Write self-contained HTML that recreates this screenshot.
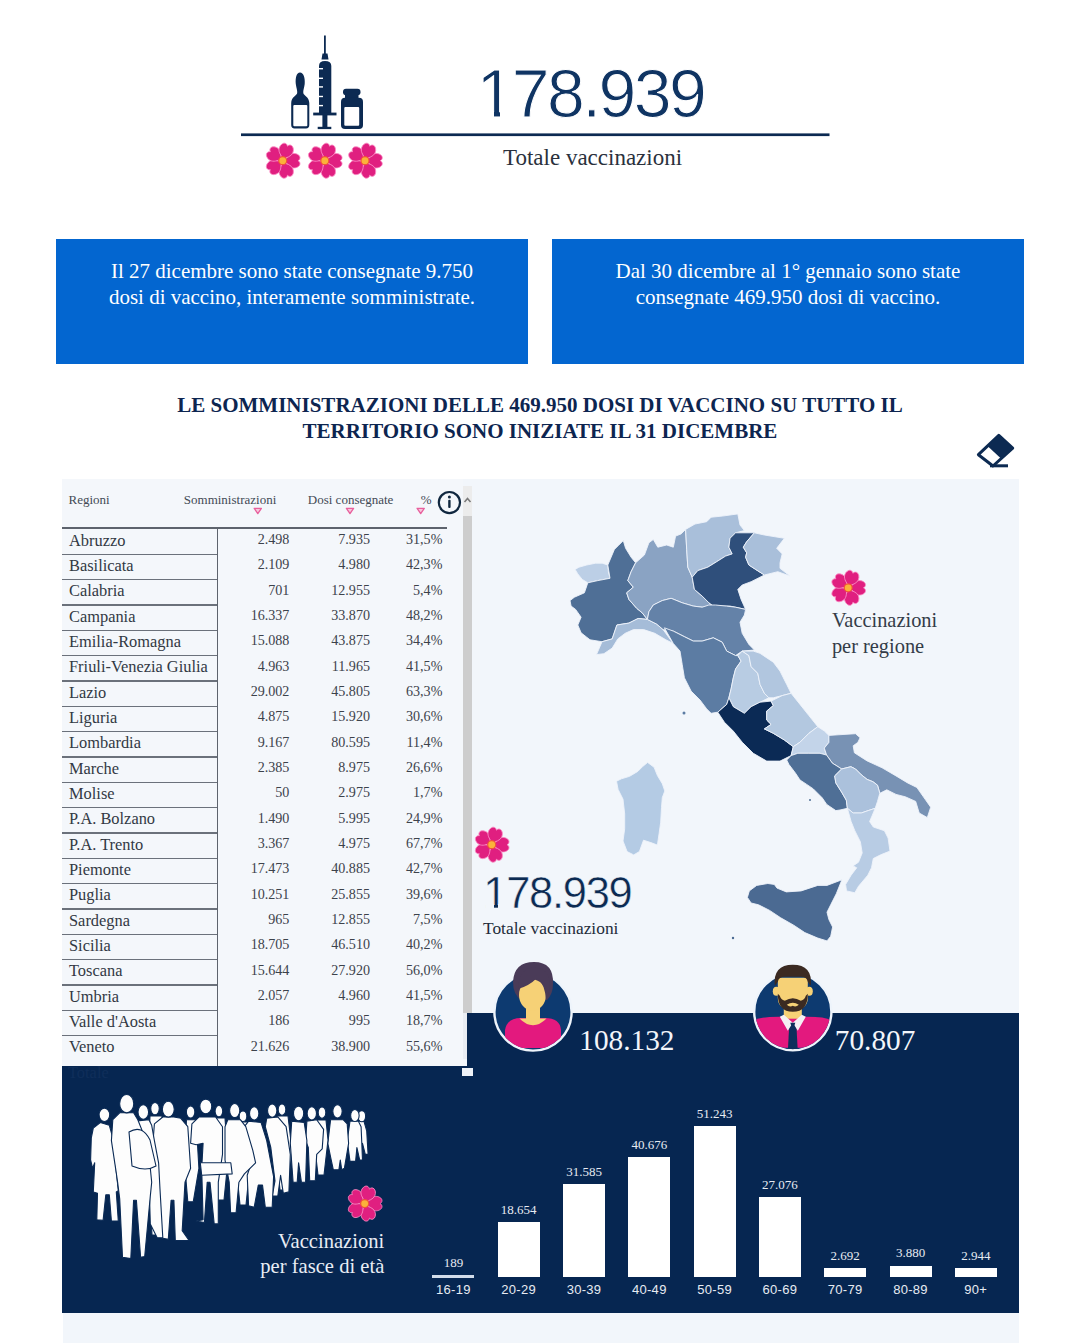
<!DOCTYPE html>
<html><head><meta charset="utf-8">
<style>
*{margin:0;padding:0;box-sizing:border-box}
html,body{width:1080px;height:1343px;overflow:hidden;background:#fff}
body{position:relative;font-family:"Liberation Serif",serif}
.a{position:absolute;white-space:nowrap}
.sans{font-family:"Liberation Sans",sans-serif}
.box{position:absolute;background:#0366d0;color:#fff;font-size:21px;line-height:25.5px;text-align:center;padding-top:20px}
.hd{position:absolute;left:0;width:1080px;text-align:center;font-weight:bold;font-size:21px;color:#0d2550}
.panel{position:absolute;left:63px;top:479px;width:956px;height:864px;background:#f2f6fb}
.navy{background:#062651}
.tbl{position:absolute;left:62px;top:479px;width:401px;height:587px;background:#f4f7fb;overflow:hidden}
.rn{position:absolute;left:7px;font-size:16.4px;color:#323944}
.num{position:absolute;color:#3c424b;text-align:right}
.hl{position:absolute;left:0;height:2px;background:#5a606a}
.th{position:absolute;font-size:13px;color:#4f5560;top:14px}
.bar{position:absolute;background:#fff;width:42px}
.bv{position:absolute;width:80px;text-align:center;font-size:13px;color:#e6ebf2}
.bl{position:absolute;width:80px;text-align:center;font-size:13px;letter-spacing:0.3px;color:#e6ebf2;font-family:"Liberation Sans",sans-serif;top:1281px}
</style></head>
<body>
<!-- TOP ICON -->
<svg class="a" style="left:0;top:0" width="1080" height="200" viewBox="0 0 1080 200">
  <defs>
    <g id="fl">
      <g id="pt"><path d="M2,0 C4,-2.5 6.5,-6.8 10.5,-7.2 C14,-7.5 17.3,-5.5 17.3,-3 C17.3,-1.5 16.3,-0.5 15.3,0 C16.3,0.5 17.3,1.5 17.3,3 C17.3,5.5 14,7.5 10.5,7.2 C6.5,6.8 4,2.5 2,0 Z" fill="#e01f80" stroke="#fa8cc4" stroke-width="0.8"/></g>
      <use href="#pt" transform="rotate(72)"/>
      <use href="#pt" transform="rotate(144)"/>
      <use href="#pt" transform="rotate(216)"/>
      <use href="#pt" transform="rotate(288)"/>
      <circle r="4.6" fill="#f0513a"/>
      <circle r="3.4" fill="#fbb23a"/>
    </g>
  </defs>
  <!-- needle -->
  <rect x="324" y="35.5" width="1.8" height="19" fill="#0c2a52"/>
  <path d="M321.5,59.5 L322.5,53.5 L327.5,53.5 L328.5,59.5 Z" fill="#0c2a52"/>
  <path d="M319,113.5 L319,66 Q319,61 325,61 Q331.3,61 331.3,66 L331.3,113.5 Z" fill="#0c2a52"/>
  <g fill="#fff"><rect x="319" y="68" width="4" height="1.4"/><rect x="319" y="77.6" width="4" height="1.4"/><rect x="319" y="86.2" width="4" height="1.4"/><rect x="319" y="95.8" width="4" height="1.4"/><rect x="319" y="104.9" width="4" height="1.4"/></g>
  <rect x="313.2" y="112.6" width="23.3" height="2.8" fill="#0c2a52"/>
  <rect x="322.4" y="115" width="5" height="12.5" fill="#0c2a52"/>
  <rect x="317.7" y="126.8" width="13.6" height="2.3" fill="#0c2a52"/>
  <!-- ampoule -->
  <path d="M300,72.5 C296.5,72.5 295.2,78 295.8,84 C296.3,88 297.5,90 297.2,93 C296.8,95.5 291.2,97 291.2,103 L291.2,125 Q291.2,128.4 294.5,128.4 L306,128.4 Q309.3,128.4 309.3,125 L309.3,103 C309.3,97 303.7,95.5 303.3,93 C303,90 304.2,88 304.7,84 C305.3,78 303.5,72.5 300,72.5 Z" fill="#0c2a52"/>
  <rect x="293.3" y="105" width="14" height="21.3" rx="1" fill="#fff"/>
  <!-- vial -->
  <rect x="343" y="88.7" width="17.5" height="6.5" rx="3" fill="#0c2a52"/>
  <rect x="345" y="94.5" width="13.5" height="4" fill="#0c2a52"/>
  <rect x="341" y="97.8" width="22" height="31.1" rx="4" fill="#0c2a52"/>
  <rect x="344.3" y="106.9" width="14.9" height="18.8" rx="1" fill="#fff"/>
  <!-- line -->
  <rect x="241" y="133.4" width="588.5" height="2.7" fill="#0c2a52"/>
  <use href="#fl" transform="translate(282.7,160.7)"/>
  <use href="#fl" transform="translate(324.8,160.7)"/>
  <use href="#fl" transform="translate(365,160.7)"/>
</svg>
<div class="a sans" style="left:476.5px;top:55px;font-size:68px;line-height:76px;color:#0f3463;letter-spacing:-2.6px;-webkit-text-stroke:1.0px #fff">178.939</div>
<div class="a" style="left:480px;top:111px;width:14.1px;height:7px;background:#fff"></div><div class="a" style="left:499.7px;top:111px;width:13px;height:7px;background:#fff"></div>
<div class="a" style="left:503px;top:145px;font-size:23px;line-height:26px;color:#2a313c">Totale vaccinazioni</div>

<!-- BLUE BOXES -->
<div class="box" style="left:56px;top:239px;width:472px;height:125px">Il 27 dicembre sono state consegnate 9.750<br>dosi di vaccino, interamente somministrate.</div>
<div class="box" style="left:552px;top:239px;width:472px;height:125px">Dal 30 dicembre al 1° gennaio sono state<br>consegnate 469.950 dosi di vaccino.</div>

<!-- HEADING -->
<div class="hd" style="top:393px;line-height:25.5px">LE SOMMINISTRAZIONI DELLE 469.950 DOSI DI VACCINO SU TUTTO IL<br>TERRITORIO SONO INIZIATE IL 31 DICEMBRE</div>
<svg class="a" style="left:975px;top:430px" width="42" height="42" viewBox="975 430 42 42">
  <path d="M978.4,454.7 L998.8,435.3 L1012.7,448.2 L993,466 Z" fill="none" stroke="#0c2a52" stroke-width="3" stroke-linejoin="round"/>
  <path d="M987.5,446 L998.8,435.3 L1012.7,448.2 L1001.5,459 Z" fill="#0c2a52"/>
  <rect x="990" y="464.3" width="18" height="3" fill="#0c2a52"/>
</svg>

<!-- PANEL -->
<div class="panel"></div>
<div class="a navy" style="left:467px;top:1013px;width:552px;height:300px"></div>
<div class="a navy" style="left:62px;top:1066px;width:957px;height:247px"></div>

<!-- TABLE -->
<div class="tbl" id="tbl"><div class="a" style="left:6.5px;top:14.1px;font-size:13px;line-height:13px;color:#434a55">Regioni</div>
<div class="a" style="left:121.8px;top:14.1px;font-size:13px;line-height:13px;color:#434a55">Somministrazioni</div>
<div class="a" style="left:245.8px;top:14.1px;font-size:13px;line-height:13px;color:#434a55">Dosi consegnate</div>
<div class="a" style="left:358.7px;top:14.1px;font-size:13px;line-height:13px;color:#434a55">%</div>
<svg class="a" style="left:0;top:0" width="420" height="60" viewBox="62 479 420 60"><path d="M254.2,508.3 L261.4,508.3 L257.8,513.6 Z" fill="#f7c6dc" stroke="#e8609d" stroke-width="1.3" stroke-linejoin="round"/><path d="M346.4,508.3 L353.6,508.3 L350.0,513.6 Z" fill="#f7c6dc" stroke="#e8609d" stroke-width="1.3" stroke-linejoin="round"/><path d="M417.1,508.3 L424.3,508.3 L420.7,513.6 Z" fill="#f7c6dc" stroke="#e8609d" stroke-width="1.3" stroke-linejoin="round"/><circle cx="449.4" cy="502.6" r="10.6" fill="none" stroke="#10273f" stroke-width="2.2"/><circle cx="449.4" cy="497" r="1.5" fill="#10273f"/><rect x="448.2" y="499.8" width="2.4" height="8.2" rx="1" fill="#10273f"/></svg>
<div class="hl" style="top:48px;width:385px;height:2.2px;background:#5d636d"></div>
<div class="a" style="left:155px;top:50px;width:1.3px;height:537px;background:#5d636d"></div>
<div class="rn" style="top:53.6px;line-height:16.4px">Abruzzo</div>
<div class="num" style="right:173.6px;top:53.1px;font-size:14.1px;line-height:14.1px">2.498</div>
<div class="num" style="right:93.0px;top:53.1px;font-size:14.1px;line-height:14.1px">7.935</div>
<div class="num" style="right:20.6px;top:53.1px;font-size:14.1px;line-height:14.1px">31,5%</div>
<div class="hl" style="top:74.60px;width:155px;height:1.5px;background:#6b717b"></div>
<div class="rn" style="top:78.9px;line-height:16.4px">Basilicata</div>
<div class="num" style="right:173.6px;top:78.4px;font-size:14.1px;line-height:14.1px">2.109</div>
<div class="num" style="right:93.0px;top:78.4px;font-size:14.1px;line-height:14.1px">4.980</div>
<div class="num" style="right:20.6px;top:78.4px;font-size:14.1px;line-height:14.1px">42,3%</div>
<div class="hl" style="top:99.93px;width:155px;height:1.5px;background:#6b717b"></div>
<div class="rn" style="top:104.2px;line-height:16.4px">Calabria</div>
<div class="num" style="right:173.6px;top:103.8px;font-size:14.1px;line-height:14.1px">701</div>
<div class="num" style="right:93.0px;top:103.8px;font-size:14.1px;line-height:14.1px">12.955</div>
<div class="num" style="right:20.6px;top:103.8px;font-size:14.1px;line-height:14.1px">5,4%</div>
<div class="hl" style="top:125.26px;width:155px;height:1.5px;background:#6b717b"></div>
<div class="rn" style="top:129.6px;line-height:16.4px">Campania</div>
<div class="num" style="right:173.6px;top:129.1px;font-size:14.1px;line-height:14.1px">16.337</div>
<div class="num" style="right:93.0px;top:129.1px;font-size:14.1px;line-height:14.1px">33.870</div>
<div class="num" style="right:20.6px;top:129.1px;font-size:14.1px;line-height:14.1px">48,2%</div>
<div class="hl" style="top:150.59px;width:155px;height:1.5px;background:#6b717b"></div>
<div class="rn" style="top:154.9px;line-height:16.4px">Emilia-Romagna</div>
<div class="num" style="right:173.6px;top:154.4px;font-size:14.1px;line-height:14.1px">15.088</div>
<div class="num" style="right:93.0px;top:154.4px;font-size:14.1px;line-height:14.1px">43.875</div>
<div class="num" style="right:20.6px;top:154.4px;font-size:14.1px;line-height:14.1px">34,4%</div>
<div class="hl" style="top:175.92px;width:155px;height:1.5px;background:#6b717b"></div>
<div class="rn" style="top:180.2px;line-height:16.4px">Friuli-Venezia Giulia</div>
<div class="num" style="right:173.6px;top:179.7px;font-size:14.1px;line-height:14.1px">4.963</div>
<div class="num" style="right:93.0px;top:179.7px;font-size:14.1px;line-height:14.1px">11.965</div>
<div class="num" style="right:20.6px;top:179.7px;font-size:14.1px;line-height:14.1px">41,5%</div>
<div class="hl" style="top:201.25px;width:155px;height:1.5px;background:#6b717b"></div>
<div class="rn" style="top:205.5px;line-height:16.4px">Lazio</div>
<div class="num" style="right:173.6px;top:205.1px;font-size:14.1px;line-height:14.1px">29.002</div>
<div class="num" style="right:93.0px;top:205.1px;font-size:14.1px;line-height:14.1px">45.805</div>
<div class="num" style="right:20.6px;top:205.1px;font-size:14.1px;line-height:14.1px">63,3%</div>
<div class="hl" style="top:226.58px;width:155px;height:1.5px;background:#6b717b"></div>
<div class="rn" style="top:230.9px;line-height:16.4px">Liguria</div>
<div class="num" style="right:173.6px;top:230.4px;font-size:14.1px;line-height:14.1px">4.875</div>
<div class="num" style="right:93.0px;top:230.4px;font-size:14.1px;line-height:14.1px">15.920</div>
<div class="num" style="right:20.6px;top:230.4px;font-size:14.1px;line-height:14.1px">30,6%</div>
<div class="hl" style="top:251.91px;width:155px;height:1.5px;background:#6b717b"></div>
<div class="rn" style="top:256.2px;line-height:16.4px">Lombardia</div>
<div class="num" style="right:173.6px;top:255.7px;font-size:14.1px;line-height:14.1px">9.167</div>
<div class="num" style="right:93.0px;top:255.7px;font-size:14.1px;line-height:14.1px">80.595</div>
<div class="num" style="right:20.6px;top:255.7px;font-size:14.1px;line-height:14.1px">11,4%</div>
<div class="hl" style="top:277.24px;width:155px;height:1.5px;background:#6b717b"></div>
<div class="rn" style="top:281.5px;line-height:16.4px">Marche</div>
<div class="num" style="right:173.6px;top:281.1px;font-size:14.1px;line-height:14.1px">2.385</div>
<div class="num" style="right:93.0px;top:281.1px;font-size:14.1px;line-height:14.1px">8.975</div>
<div class="num" style="right:20.6px;top:281.1px;font-size:14.1px;line-height:14.1px">26,6%</div>
<div class="hl" style="top:302.57px;width:155px;height:1.5px;background:#6b717b"></div>
<div class="rn" style="top:306.9px;line-height:16.4px">Molise</div>
<div class="num" style="right:173.6px;top:306.4px;font-size:14.1px;line-height:14.1px">50</div>
<div class="num" style="right:93.0px;top:306.4px;font-size:14.1px;line-height:14.1px">2.975</div>
<div class="num" style="right:20.6px;top:306.4px;font-size:14.1px;line-height:14.1px">1,7%</div>
<div class="hl" style="top:327.90px;width:155px;height:1.5px;background:#6b717b"></div>
<div class="rn" style="top:332.2px;line-height:16.4px">P.A. Bolzano</div>
<div class="num" style="right:173.6px;top:331.7px;font-size:14.1px;line-height:14.1px">1.490</div>
<div class="num" style="right:93.0px;top:331.7px;font-size:14.1px;line-height:14.1px">5.995</div>
<div class="num" style="right:20.6px;top:331.7px;font-size:14.1px;line-height:14.1px">24,9%</div>
<div class="hl" style="top:353.23px;width:155px;height:1.5px;background:#6b717b"></div>
<div class="rn" style="top:357.5px;line-height:16.4px">P.A. Trento</div>
<div class="num" style="right:173.6px;top:357.1px;font-size:14.1px;line-height:14.1px">3.367</div>
<div class="num" style="right:93.0px;top:357.1px;font-size:14.1px;line-height:14.1px">4.975</div>
<div class="num" style="right:20.6px;top:357.1px;font-size:14.1px;line-height:14.1px">67,7%</div>
<div class="hl" style="top:378.56px;width:155px;height:1.5px;background:#6b717b"></div>
<div class="rn" style="top:382.9px;line-height:16.4px">Piemonte</div>
<div class="num" style="right:173.6px;top:382.4px;font-size:14.1px;line-height:14.1px">17.473</div>
<div class="num" style="right:93.0px;top:382.4px;font-size:14.1px;line-height:14.1px">40.885</div>
<div class="num" style="right:20.6px;top:382.4px;font-size:14.1px;line-height:14.1px">42,7%</div>
<div class="hl" style="top:403.89px;width:155px;height:1.5px;background:#6b717b"></div>
<div class="rn" style="top:408.2px;line-height:16.4px">Puglia</div>
<div class="num" style="right:173.6px;top:407.7px;font-size:14.1px;line-height:14.1px">10.251</div>
<div class="num" style="right:93.0px;top:407.7px;font-size:14.1px;line-height:14.1px">25.855</div>
<div class="num" style="right:20.6px;top:407.7px;font-size:14.1px;line-height:14.1px">39,6%</div>
<div class="hl" style="top:429.22px;width:155px;height:1.5px;background:#6b717b"></div>
<div class="rn" style="top:433.5px;line-height:16.4px">Sardegna</div>
<div class="num" style="right:173.6px;top:433.0px;font-size:14.1px;line-height:14.1px">965</div>
<div class="num" style="right:93.0px;top:433.0px;font-size:14.1px;line-height:14.1px">12.855</div>
<div class="num" style="right:20.6px;top:433.0px;font-size:14.1px;line-height:14.1px">7,5%</div>
<div class="hl" style="top:454.55px;width:155px;height:1.5px;background:#6b717b"></div>
<div class="rn" style="top:458.8px;line-height:16.4px">Sicilia</div>
<div class="num" style="right:173.6px;top:458.4px;font-size:14.1px;line-height:14.1px">18.705</div>
<div class="num" style="right:93.0px;top:458.4px;font-size:14.1px;line-height:14.1px">46.510</div>
<div class="num" style="right:20.6px;top:458.4px;font-size:14.1px;line-height:14.1px">40,2%</div>
<div class="hl" style="top:479.88px;width:155px;height:1.5px;background:#6b717b"></div>
<div class="rn" style="top:484.2px;line-height:16.4px">Toscana</div>
<div class="num" style="right:173.6px;top:483.7px;font-size:14.1px;line-height:14.1px">15.644</div>
<div class="num" style="right:93.0px;top:483.7px;font-size:14.1px;line-height:14.1px">27.920</div>
<div class="num" style="right:20.6px;top:483.7px;font-size:14.1px;line-height:14.1px">56,0%</div>
<div class="hl" style="top:505.21px;width:155px;height:1.5px;background:#6b717b"></div>
<div class="rn" style="top:509.5px;line-height:16.4px">Umbria</div>
<div class="num" style="right:173.6px;top:509.0px;font-size:14.1px;line-height:14.1px">2.057</div>
<div class="num" style="right:93.0px;top:509.0px;font-size:14.1px;line-height:14.1px">4.960</div>
<div class="num" style="right:20.6px;top:509.0px;font-size:14.1px;line-height:14.1px">41,5%</div>
<div class="hl" style="top:530.54px;width:155px;height:1.5px;background:#6b717b"></div>
<div class="rn" style="top:534.8px;line-height:16.4px">Valle d'Aosta</div>
<div class="num" style="right:173.6px;top:534.4px;font-size:14.1px;line-height:14.1px">186</div>
<div class="num" style="right:93.0px;top:534.4px;font-size:14.1px;line-height:14.1px">995</div>
<div class="num" style="right:20.6px;top:534.4px;font-size:14.1px;line-height:14.1px">18,7%</div>
<div class="hl" style="top:555.87px;width:155px;height:1.5px;background:#6b717b"></div>
<div class="rn" style="top:560.2px;line-height:16.4px">Veneto</div>
<div class="num" style="right:173.6px;top:559.7px;font-size:14.1px;line-height:14.1px">21.626</div>
<div class="num" style="right:93.0px;top:559.7px;font-size:14.1px;line-height:14.1px">38.900</div>
<div class="num" style="right:20.6px;top:559.7px;font-size:14.1px;line-height:14.1px">55,6%</div></div>

<!-- MAP placeholder -->
<svg class="a" style="left:540px;top:500px" width="420" height="460" viewBox="540 500 420 460">
<path d="M575.1,569.4 L578.9,567.2 L586.7,565.0 L595.6,563.2 L602.2,563.2 L607.8,565.0 L608.4,571.7 L610.0,578.3 L597.8,580.6 L587.8,582.8 L582.2,579.4 L577.8,573.9 Z" fill="#bccfe6" stroke="#eef3fa" stroke-width="0.9" stroke-linejoin="round"/>
<path d="M570.0,600.6 L574.4,597.2 L584.4,592.8 L587.8,582.8 L597.8,580.6 L610.0,578.3 L607.8,565.0 L614.4,549.4 L618.9,545.0 L623.3,540.6 L625.6,548.3 L631.1,557.2 L635.6,562.8 L631.1,571.7 L627.8,580.6 L633.3,587.2 L626.7,592.8 L628.9,599.4 L636.7,608.3 L642.2,612.8 L647.4,619.4 L638.1,618.5 L628.9,623.1 L616.9,625.0 L612.2,638.9 L602.0,641.7 L590.0,639.8 L586.7,637.2 L581.1,632.8 L577.8,625.0 L581.1,617.2 L575.6,609.4 L571.1,606.1 Z" fill="#4f6f96" stroke="#eef3fa" stroke-width="0.9" stroke-linejoin="round"/>
<path d="M635.6,562.8 L644.4,555.0 L648.9,542.8 L653.3,539.4 L657.8,547.2 L666.7,545.0 L673.3,547.2 L675.6,536.1 L681.1,533.9 L685.6,529.4 L686.7,549.4 L687.8,567.2 L692.2,577.2 L694.4,589.4 L702.2,596.1 L708.9,602.8 L713.3,606.1 L702.2,607.2 L693.3,606.1 L682.2,602.8 L671.1,598.3 L662.2,600.6 L653.3,605.0 L648.9,611.7 L647.4,619.4 L642.2,612.8 L636.7,608.3 L628.9,599.4 L626.7,592.8 L633.3,587.2 L627.8,580.6 L631.1,571.7 Z" fill="#8aa3c3" stroke="#eef3fa" stroke-width="0.9" stroke-linejoin="round"/>
<path d="M685.6,529.4 L695.0,524.0 L706.7,521.7 L711.1,517.2 L722.2,516.1 L737.8,513.9 L740.0,525.0 L744.4,530.6 L735.6,532.8 L730.0,538.3 L728.9,547.2 L732.2,553.9 L725.6,556.1 L716.7,561.7 L707.8,567.2 L697.8,570.6 L692.2,577.2 L687.8,567.2 L686.7,549.4 Z" fill="#a9bfda" stroke="#eef3fa" stroke-width="0.9" stroke-linejoin="round"/>
<path d="M735.6,532.8 L754.4,532.8 L746.7,541.7 L743.3,547.2 L746.7,552.8 L745.6,557.2 L748.9,565.0 L755.6,569.4 L764.4,575.0 L751.1,581.7 L742.2,585.0 L737.8,589.4 L741.1,599.4 L745.6,609.4 L730.0,606.1 L713.3,606.1 L708.9,602.8 L702.2,596.1 L694.4,589.4 L692.2,577.2 L697.8,570.6 L707.8,567.2 L716.7,561.7 L725.6,556.1 L732.2,553.9 L728.9,547.2 L730.0,538.3 Z" fill="#2f4f7b" stroke="#eef3fa" stroke-width="0.9" stroke-linejoin="round"/>
<path d="M754.4,532.8 L764.4,535.0 L784.4,538.3 L776.7,548.3 L782.2,553.9 L780.0,562.8 L780.0,568.3 L790.0,576.1 L777.8,571.7 L764.4,575.0 L755.6,569.4 L748.9,565.0 L745.6,557.2 L746.7,552.8 L743.3,547.2 L746.7,541.7 Z" fill="#a9bfda" stroke="#eef3fa" stroke-width="0.9" stroke-linejoin="round"/>
<path d="M596.5,654.6 L602.0,641.7 L612.2,638.9 L616.9,625.0 L628.9,623.1 L638.1,618.5 L647.4,619.4 L656.7,624.1 L663.1,629.6 L673.3,643.5 L665.9,639.8 L654.8,633.3 L643.7,629.6 L633.5,629.6 L625.2,633.3 L617.8,638.9 L612.2,648.1 L603.9,653.7 Z" fill="#a5bcd8" stroke="#eef3fa" stroke-width="0.9" stroke-linejoin="round"/>
<path d="M647.4,619.4 L648.9,611.7 L653.3,605.0 L662.2,600.6 L671.1,598.3 L682.2,602.8 L693.3,606.1 L702.2,607.2 L708.9,605.0 L715.6,605.0 L726.7,606.1 L735.6,607.2 L745.6,609.4 L744.4,615.0 L740.0,622.2 L742.2,633.3 L748.9,644.4 L754.4,650.0 L742.2,651.1 L735.6,655.6 L726.7,651.1 L722.2,642.2 L713.3,637.8 L702.2,641.1 L693.3,641.1 L684.4,636.7 L673.3,631.1 L663.1,629.6 L656.7,624.1 Z" fill="#6482a8" stroke="#eef3fa" stroke-width="0.9" stroke-linejoin="round"/>
<path d="M664.4,627.8 L673.3,631.1 L684.4,636.7 L693.3,641.1 L702.2,641.1 L713.3,637.8 L722.2,642.2 L726.7,651.1 L735.6,655.6 L737.8,655.6 L741.1,661.1 L735.6,668.9 L733.3,677.8 L731.1,688.9 L728.9,697.8 L726.7,704.4 L717.8,712.2 L711.1,713.3 L706.7,708.9 L700.0,700.0 L691.1,691.1 L684.4,677.8 L682.2,664.4 L680.0,651.1 L673.3,643.5 Z" fill="#5c7ca3" stroke="#eef3fa" stroke-width="0.9" stroke-linejoin="round"/>
<path d="M737.8,655.6 L742.2,651.1 L748.9,655.6 L751.1,666.7 L757.8,673.3 L760.0,684.4 L764.4,693.3 L768.9,697.8 L760.0,702.2 L751.1,706.7 L744.4,713.3 L733.3,706.7 L728.9,697.8 L731.1,688.9 L733.3,677.8 L735.6,668.9 L741.1,661.1 Z" fill="#b8cce3" stroke="#eef3fa" stroke-width="0.9" stroke-linejoin="round"/>
<path d="M753.3,651.1 L760.0,653.3 L773.3,662.2 L780.0,671.1 L786.7,684.4 L791.1,693.3 L782.2,695.6 L773.3,697.8 L768.9,697.8 L764.4,693.3 L760.0,684.4 L757.8,673.3 L751.1,666.7 L748.9,655.6 L742.2,651.1 Z" fill="#b1c6df" stroke="#eef3fa" stroke-width="0.9" stroke-linejoin="round"/>
<path d="M717.8,712.2 L726.7,704.4 L728.9,697.8 L733.3,706.7 L744.4,713.3 L751.1,706.7 L760.0,702.2 L771.1,701.1 L773.3,705.6 L766.7,711.1 L766.7,720.0 L771.1,724.4 L764.4,728.9 L773.3,733.3 L784.4,740.0 L793.3,746.7 L791.1,755.6 L780.0,761.1 L766.7,761.1 L753.3,753.3 L742.2,742.2 L733.3,731.1 L724.4,722.2 Z" fill="#0b2a55" stroke="#eef3fa" stroke-width="0.9" stroke-linejoin="round"/>
<path d="M791.1,693.3 L800.0,704.4 L808.9,715.6 L817.8,726.7 L808.9,733.3 L800.0,742.2 L793.3,746.7 L784.4,740.0 L773.3,733.3 L764.4,728.9 L771.1,724.4 L766.7,720.0 L766.7,711.1 L773.3,705.6 L771.1,701.1 L782.2,695.6 Z" fill="#b3c8e0" stroke="#eef3fa" stroke-width="0.9" stroke-linejoin="round"/>
<path d="M817.8,726.7 L824.4,731.0 L828.9,735.4 L828.9,742.4 L824.3,748.1 L826.6,755.1 L820.0,753.3 L808.9,753.3 L797.8,753.3 L791.1,755.6 L793.3,746.7 L800.0,742.2 L808.9,733.3 Z" fill="#c3d4e9" stroke="#eef3fa" stroke-width="0.9" stroke-linejoin="round"/>
<path d="M828.9,735.4 L838.1,734.8 L855.5,733.7 L860.1,737.7 L857.8,742.4 L853.2,745.8 L854.4,752.8 L867.1,760.9 L882.1,767.8 L896.0,775.9 L907.6,782.9 L916.9,787.5 L925.0,799.1 L930.7,807.2 L927.3,817.6 L919.2,813.0 L915.7,801.4 L905.3,796.8 L896.0,794.4 L886.8,789.8 L879.8,793.3 L877.5,785.2 L872.9,781.7 L867.1,779.4 L861.3,774.8 L855.5,769.0 L850.9,766.7 L841.6,769.0 L838.1,766.7 L832.4,763.2 L826.6,755.1 L824.3,748.1 L828.9,742.4 Z" fill="#7892b4" stroke="#eef3fa" stroke-width="0.9" stroke-linejoin="round"/>
<path d="M791.1,755.6 L797.8,753.3 L808.9,753.3 L820.0,753.3 L826.6,755.1 L832.4,763.2 L838.1,766.7 L841.6,769.0 L834.7,775.9 L835.8,782.9 L841.6,792.1 L846.3,800.2 L847.4,808.3 L840.0,810.0 L835.8,810.6 L826.7,804.4 L822.2,797.8 L813.3,788.9 L806.7,784.4 L800.0,780.0 L795.6,773.3 L788.9,764.4 L786.7,760.0 Z" fill="#4f6f96" stroke="#eef3fa" stroke-width="0.9" stroke-linejoin="round"/>
<path d="M834.7,775.9 L841.6,769.0 L850.9,766.7 L855.5,769.0 L861.3,774.8 L867.1,779.4 L872.9,781.7 L877.5,785.2 L879.8,793.3 L877.5,801.4 L875.2,808.3 L868.2,810.6 L861.3,813.0 L853.2,813.0 L847.4,808.3 L846.3,800.2 L841.6,792.1 L835.8,782.9 Z" fill="#abc1dc" stroke="#eef3fa" stroke-width="0.9" stroke-linejoin="round"/>
<path d="M847.4,808.3 L853.2,813.0 L861.3,813.0 L868.2,810.6 L875.2,808.3 L872.0,816.0 L869.6,821.5 L873.3,827.0 L884.4,830.7 L888.1,838.1 L890.0,851.1 L880.7,854.8 L873.3,858.5 L871.5,867.8 L867.8,875.2 L858.5,886.3 L854.8,892.8 L846.5,890.9 L845.6,884.4 L851.1,875.2 L856.7,867.8 L853.0,865.9 L858.5,862.2 L862.2,853.0 L860.4,841.9 L854.8,830.7 L851.1,821.5 Z" fill="#b8cce4" stroke="#eef3fa" stroke-width="0.9" stroke-linejoin="round"/>
<path d="M747.4,897.4 L749.3,890.9 L756.7,885.4 L767.8,883.5 L774.3,884.4 L777.0,888.1 L786.3,891.9 L801.1,890.9 L817.8,885.4 L827.0,885.4 L841.9,879.8 L836.3,893.7 L830.7,904.8 L827.0,912.2 L828.9,919.6 L832.6,927.0 L830.7,936.3 L827.0,940.9 L817.8,938.1 L804.8,932.6 L793.7,925.2 L780.7,917.8 L769.6,910.4 L758.5,904.8 L751.1,903.0 Z" fill="#4b6a92" stroke="#eef3fa" stroke-width="0.9" stroke-linejoin="round"/>
<path d="M616.5,781.2 L621.4,778.8 L629.6,776.3 L637.8,771.4 L642.7,766.5 L647.6,762.4 L654.1,767.3 L657.4,775.5 L662.3,783.7 L664.8,791.0 L662.3,797.6 L661.5,807.4 L660.7,822.2 L659.1,833.6 L657.4,845.1 L650.9,842.6 L643.5,840.2 L639.4,851.6 L633.7,854.9 L627.1,851.6 L623.0,841.0 L624.7,828.7 L624.7,814.0 L623.0,799.2 L618.1,789.4 Z" fill="#b4cbe4" stroke="#eef3fa" stroke-width="0.9" stroke-linejoin="round"/>
<circle cx="733" cy="938" r="1.2" fill="#4b6a92"/><circle cx="684" cy="713" r="1.5" fill="#5c7ca3"/><circle cx="810" cy="800" r="1" fill="#4f6f96"/>
</svg>

<!-- BAR CHART -->
<div class="bar" style="left:432.4px;top:1275.4px;height:1.6px;background:#d2dcea;height:2.2px"></div>
<div class="bv" style="left:413.4px;top:1256.0px;line-height:13px">189</div>
<div class="bl" style="left:413.4px;top:1283.0px;line-height:13px">16-19</div>
<div class="bar" style="left:497.7px;top:1222.0px;height:55.0px"></div>
<div class="bv" style="left:478.7px;top:1202.6px;line-height:13px">18.654</div>
<div class="bl" style="left:478.7px;top:1283.0px;line-height:13px">20-29</div>
<div class="bar" style="left:563.0px;top:1183.9px;height:93.1px"></div>
<div class="bv" style="left:544.0px;top:1164.5px;line-height:13px">31.585</div>
<div class="bl" style="left:544.0px;top:1283.0px;line-height:13px">30-39</div>
<div class="bar" style="left:628.3px;top:1157.1px;height:119.9px"></div>
<div class="bv" style="left:609.3px;top:1137.8px;line-height:13px">40.676</div>
<div class="bl" style="left:609.3px;top:1283.0px;line-height:13px">40-49</div>
<div class="bar" style="left:693.6px;top:1126.0px;height:151.0px"></div>
<div class="bv" style="left:674.6px;top:1106.6px;line-height:13px">51.243</div>
<div class="bl" style="left:674.6px;top:1283.0px;line-height:13px">50-59</div>
<div class="bar" style="left:758.9px;top:1197.2px;height:79.8px"></div>
<div class="bv" style="left:739.9px;top:1177.8px;line-height:13px">27.076</div>
<div class="bl" style="left:739.9px;top:1283.0px;line-height:13px">60-69</div>
<div class="bar" style="left:824.2px;top:1268.0px;height:9.0px"></div>
<div class="bv" style="left:805.2px;top:1248.6px;line-height:13px">2.692</div>
<div class="bl" style="left:805.2px;top:1283.0px;line-height:13px">70-79</div>
<div class="bar" style="left:889.5px;top:1265.6px;height:11.4px"></div>
<div class="bv" style="left:870.5px;top:1246.2px;line-height:13px">3.880</div>
<div class="bl" style="left:870.5px;top:1283.0px;line-height:13px">80-89</div>
<div class="bar" style="left:954.8px;top:1268.3px;height:8.7px"></div>
<div class="bv" style="left:935.8px;top:1248.9px;line-height:13px">2.944</div>
<div class="bl" style="left:935.8px;top:1283.0px;line-height:13px">90+</div><div class="a" style="left:463px;top:486px;width:9px;height:527px;background:#ececec"></div>
<div class="a" style="left:463px;top:516px;width:9px;height:497px;background:#cdcdcd"></div>
<svg class="a" style="left:462px;top:495px" width="12" height="10" viewBox="0 0 12 10"><path d="M2.5,7 L5.5,3.5 L8.5,7" fill="none" stroke="#7a7a7a" stroke-width="1.6"/></svg>
<div class="a" style="left:463px;top:1013px;width:4px;height:46px;background:#e9edf3"></div>
<div class="a" style="left:462px;top:1068px;width:11px;height:8px;background:#eef2f8"></div>

<svg class="a" style="left:0;top:0" width="1080" height="1343" viewBox="0 0 1080 1343">
<defs><g id="pt2"><path d="M2,0 C4,-2.5 6.5,-6.8 10.5,-7.2 C14,-7.5 17.3,-5.5 17.3,-3 C17.3,-1.5 16.3,-0.5 15.3,0 C16.3,0.5 17.3,1.5 17.3,3 C17.3,5.5 14,7.5 10.5,7.2 C6.5,6.8 4,2.5 2,0 Z" fill="#e01f80" stroke="#fa8cc4" stroke-width="0.8"/></g>
<g id="fl2"><use href="#pt2"/><use href="#pt2" transform="rotate(72)"/><use href="#pt2" transform="rotate(144)"/><use href="#pt2" transform="rotate(216)"/><use href="#pt2" transform="rotate(288)"/><circle r="4.6" fill="#f0513a"/><circle r="3.4" fill="#fbb23a"/></g></defs>
<use href="#fl2" transform="translate(848.2,587.8)"/>
<use href="#fl2" transform="translate(491.7,844.7)"/>
<use href="#fl2" transform="translate(364.7,1203.6)"/>
<g fill="#fdfdfd" stroke="#0a2a55" stroke-width="1.1" stroke-linejoin="round"><path d="M277.0,1116.0 L288.0,1116.0 L292.0,1150.0 L288.0,1190.0 L280.0,1190.0 L276.0,1150.0Z"/><ellipse cx="282" cy="1109.6" rx="3.82" ry="5.72"/><path d="M238.0,1122.0 L248.0,1122.0 L250.0,1165.0 L246.0,1205.0 L240.0,1205.0 L236.0,1165.0Z"/><ellipse cx="243" cy="1116.1999999999998" rx="3.82" ry="5.28"/><path d="M213.0,1118.0 L225.0,1118.0 L228.0,1160.0 L224.0,1200.0 L216.0,1200.0 L212.0,1160.0Z"/><ellipse cx="218.9" cy="1111.1999999999998" rx="3.82" ry="5.72"/><path d="M150.0,1116.0 L162.0,1116.0 L165.0,1160.0 L160.0,1235.0 L152.0,1235.0 L148.0,1160.0Z"/><ellipse cx="155" cy="1108.6" rx="4.25" ry="6.16"/><path d="M358.3,1121.1 L363.9,1121.1 L366.7,1130.8 L368.1,1154.4 L365.3,1154.4 L362.5,1143.3 L361.1,1154.4 L359.0,1151.7 L358.3,1130.8Z"/><ellipse cx="361.8" cy="1116.1999999999998" rx="3.82" ry="5.54"/><path d="M350.0,1121.1 L347.2,1140.6 L350.0,1161.4 L355.6,1161.4 L356.9,1147.5 L359.7,1160.0 L362.5,1160.0 L361.1,1126.7 L358.3,1121.1Z"/><ellipse cx="354.9" cy="1115.5" rx="4.25" ry="6.07"/><path d="M330.6,1119.7 L327.8,1143.3 L330.6,1157.2 L333.3,1169.7 L338.9,1169.7 L340.3,1160.0 L341.7,1169.7 L344.4,1168.3 L348.6,1143.3 L347.2,1123.9 L343.1,1119.7Z"/><ellipse cx="337.5" cy="1111.3" rx="4.67" ry="6.69"/><path d="M317.0,1120.0 L314.0,1140.0 L318.0,1175.0 L324.0,1175.0 L328.0,1140.0 L326.0,1120.0Z"/><ellipse cx="322" cy="1112.6" rx="3.82" ry="5.72"/><path d="M306.9,1121.1 L305.6,1140.6 L308.3,1147.5 L309.7,1180.8 L315.3,1180.8 L316.7,1154.4 L322.2,1148.9 L323.6,1129.4 L316.7,1119.7Z"/><ellipse cx="311.8" cy="1113.3999999999999" rx="4.67" ry="6.69"/><path d="M291.7,1121.1 L290.3,1143.3 L293.1,1182.2 L297.2,1182.2 L298.6,1162.8 L301.4,1182.2 L305.6,1182.2 L306.9,1140.6 L304.2,1122.5Z"/><ellipse cx="298.6" cy="1113.3999999999999" rx="5.10" ry="7.30"/><path d="M266.7,1118.3 L265.3,1126.7 L270.8,1147.5 L275.0,1180.8 L272.2,1196.1 L277.8,1196.1 L280.6,1175.3 L283.3,1193.3 L288.9,1191.9 L290.3,1154.4 L286.1,1126.7 L277.8,1116.9Z"/><ellipse cx="272.2" cy="1110.6" rx="4.67" ry="6.69"/><path d="M248.6,1121.1 L244.4,1126.7 L245.8,1147.5 L251.4,1162.8 L247.2,1175.3 L248.6,1205.8 L254.2,1207.2 L258.3,1185.0 L262.5,1185.0 L265.3,1207.2 L272.2,1207.2 L273.6,1176.7 L266.7,1140.6 L261.1,1122.5Z"/><ellipse cx="254.2" cy="1113.3999999999999" rx="4.67" ry="6.69"/><path d="M227.8,1119.7 L225.0,1126.7 L225.0,1160.0 L229.2,1182.2 L230.6,1212.8 L236.1,1212.8 L238.9,1182.2 L244.4,1173.9 L255.6,1162.8 L252.8,1150.3 L245.8,1126.7 L240.3,1119.7Z"/><ellipse cx="234.7" cy="1110.6" rx="5.10" ry="7.04"/><path d="M186.4,1119.7 L196.1,1119.7 L198.9,1168.3 L193.3,1201.7 L187.8,1201.7 L185.0,1168.3Z"/><ellipse cx="190.6" cy="1112.0" rx="4.25" ry="6.16"/><path d="M198.9,1117.0 L191.9,1123.9 L190.6,1143.3 L196.1,1144.7 L203.1,1143.3 L201.7,1168.3 L203.1,1219.7 L196.1,1221.1 L204.4,1222.5 L207.2,1182.2 L210.0,1182.2 L214.2,1223.9 L218.3,1223.9 L218.3,1182.2 L222.5,1154.4 L222.5,1126.7 L215.6,1117.0Z"/><ellipse cx="205.8" cy="1106.3999999999999" rx="5.95" ry="7.30"/><path d="M162.8,1117.0 L154.4,1123.9 L153.1,1140.6 L157.2,1182.2 L160.0,1237.8 L168.3,1239.2 L171.1,1200.3 L173.9,1200.3 L175.3,1240.6 L189.2,1240.6 L182.2,1230.8 L185.0,1182.2 L190.6,1168.3 L187.8,1126.7 L180.8,1118.3 L173.9,1117.0Z"/><ellipse cx="168.3" cy="1109.1999999999998" rx="5.95" ry="7.92"/><path d="M135.0,1121.1 L129.4,1129.4 L128.1,1162.8 L133.6,1167.0 L146.1,1169.7 L148.9,1173.9 L150.3,1223.9 L157.2,1237.8 L162.8,1237.8 L160.0,1189.2 L158.6,1162.8 L154.4,1140.6 L151.7,1125.3 L148.9,1119.7Z"/><ellipse cx="143.3" cy="1112.0" rx="5.31" ry="7.30"/><path d="M100.3,1122.5 L93.3,1128.1 L91.3,1137.8 L90.6,1160.0 L92.6,1168.3 L94.7,1162.8 L93.3,1191.9 L97.5,1193.3 L96.8,1219.7 L103.1,1220.4 L105.8,1194.7 L109.3,1194.7 L111.4,1221.1 L118.3,1221.1 L116.3,1191.9 L118.3,1190.6 L112.8,1137.8 L109.3,1125.3Z"/><ellipse cx="104.4" cy="1114.8" rx="5.31" ry="6.69"/><path d="M119.7,1112.8 L112.8,1119.7 L111.4,1140.6 L115.6,1168.3 L117.6,1182.2 L119.7,1198.9 L122.5,1257.2 L130.8,1258.6 L133.6,1200.3 L136.4,1200.3 L140.6,1257.2 L144.7,1256.5 L150.3,1196.1 L151.7,1182.2 L150.3,1168.3 L146.1,1140.6 L137.8,1119.7 L133.6,1112.8Z"/><ellipse cx="126.7" cy="1103.6999999999998" rx="7.06" ry="9.15"/><path d="M200.3,1162.8 L230.8,1162.8 L232.2,1173.9 L201.7,1175.3 Z"/><path d="M129,1132 Q142,1124 150,1140 L156,1166 Q146,1172 132,1166 Z"/></g>
<g transform="translate(533,1012)">
<clipPath id="cf"><circle r="37.5"/></clipPath>
<circle r="38.6" fill="#0d3a70" stroke="#eef4fb" stroke-width="2.4"/>
<g clip-path="url(#cf)">
<path d="M-28,36 L-28,18 Q-26,6 -12,6 L12,6 Q27,6 28,18 L28,36 Z" fill="#e3197e"/>
</g>
<path d="M-13.5,6.5 Q0,20 13.5,6.5 Z" fill="#f6d176"/>
<rect x="-7" y="-6" width="14" height="14" fill="#f6d176"/>
<path d="M-20,-30 Q-19,-50 1,-50 Q21,-50 20,-28 Q20,-18 14,-12 L-12,-12 Q-20,-18 -20,-30 Z" fill="#4a3b58"/>
<ellipse cx="-0.5" cy="-17" rx="13.5" ry="15.5" fill="#f6d176"/>
<path d="M-15,-23 Q-14,-46 4,-44 Q17,-42 17,-26 Q16,-17 13,-12 Q12,-28 4,-34 Q-4,-26 -15,-23 Z" fill="#4a3b58"/>
</g>
<g transform="translate(792.8,1011.7)">
<clipPath id="cm"><circle r="37.5"/></clipPath>
<circle r="38.6" fill="#0d3a70" stroke="#eef4fb" stroke-width="2.4"/>
<g clip-path="url(#cm)">
<path d="M-40,36 L-40,10 Q-36,5 -14,5 L14,5 Q36,5 40,10 L40,36 Z" fill="#e3197e"/>
<path d="M-3.5,12 L3.5,12 L5,40 L-5,40 Z" fill="#0d2f5c"/>
</g>
<rect x="-9" y="-4" width="18" height="11" fill="#f6d176"/>
<path d="M-13,5 L-9,3 L0,11 L-5,19 Z M13,5 L9,3 L0,11 L5,19 Z" fill="#f4f0f4"/>
<path d="M-2.5,11 L2.5,11 L1.5,14 L-1.5,14 Z" fill="#0d2f5c"/>
<ellipse cx="-16.5" cy="-20.5" rx="3.5" ry="4.5" fill="#f6d176"/><ellipse cx="16.5" cy="-20.5" rx="3.5" ry="4.5" fill="#f6d176"/>
<path d="M-15,-34 L15,-34 L15,-14 Q15,-2 0,-2 Q-15,-2 -15,-14 Z" fill="#f6d176"/>
<path d="M-15,-18 Q-15,0 0,0 Q15,0 15,-18 L13,-16 Q12,-12 8,-11 Q0,-16 -8,-11 Q-12,-12 -13,-16 Z" fill="#3b2a22"/>
<path d="M-6,-7 Q0,-11 6,-7 Q3,-4 0,-6 Q-3,-4 -6,-7 Z" fill="#f6d176"/>
<path d="M-18,-26 Q-20,-47 0,-47 Q20,-47 18,-26 L15,-30 Q14,-35 8,-35 L-8,-35 Q-14,-35 -15,-30 Z" fill="#3b2a22"/>
</g>
</svg>
<div class="a" style="left:831.9px;top:608.4px;font-size:20.4px;line-height:25.2px;color:#343c48">Vaccinazioni<br>per regione</div>
<div class="a sans" style="left:483.3px;top:872.4px;font-size:43.5px;line-height:43.5px;color:#0c2a52;letter-spacing:-1.3px;-webkit-text-stroke:0.5px #f2f6fb">178.939</div>
<div class="a" style="left:485.5px;top:903.8px;width:8.6px;height:5px;background:#f2f6fb"></div><div class="a" style="left:498.3px;top:903.8px;width:9px;height:5px;background:#f2f6fb"></div>
<div class="a" style="left:483px;top:920.4px;font-size:17.4px;line-height:17.4px;color:#232c3a">Totale vaccinazioni</div>
<div class="a" style="left:579.3px;top:1025.7px;font-size:29.3px;line-height:29.3px;color:#f2f5fa">108.132</div>
<div class="a" style="left:834.8px;top:1025.7px;font-size:29.3px;line-height:29.3px;color:#f2f5fa">70.807</div>
<div class="a" style="right:695.7px;top:1229.2px;font-size:20.6px;line-height:24.5px;color:#e8edf5;text-align:right">Vaccinazioni<br>per fasce di età</div>
<div class="a" style="left:68px;top:1065.3px;font-size:16.4px;line-height:16.4px;color:#0f2e5a">Totale</div>

</body></html>
